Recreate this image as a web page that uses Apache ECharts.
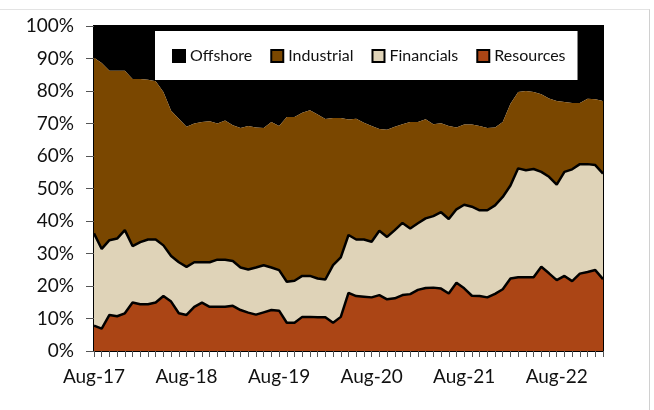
<!DOCTYPE html>
<html>
<head>
<meta charset="utf-8">
<script src="https://cdn.jsdelivr.net/npm/echarts@6/dist/echarts.min.js"></script>
<style>
  html, body { margin: 0; padding: 0; background: #fff; }
  #frame {
    position: absolute;
    left: -2px;
    top: 9px;
    width: 651px;
    height: 410px;
    border-top: 1px solid #e3e3e3;
    border-right: 1px solid #d0d0d0;
  }
  #chart { position: absolute; left: 0; top: 0; width: 654px; height: 410px; }
</style>
</head>
<body>
<div id="frame"></div>
<div id="chart"></div>
<script>
// monthly, Aug-17 .. Feb-23
const months = [
  'Aug-17','Sep-17','Oct-17','Nov-17','Dec-17','Jan-18','Feb-18','Mar-18','Apr-18','May-18','Jun-18','Jul-18',
  'Aug-18','Sep-18','Oct-18','Nov-18','Dec-18','Jan-19','Feb-19','Mar-19','Apr-19','May-19','Jun-19','Jul-19',
  'Aug-19','Sep-19','Oct-19','Nov-19','Dec-19','Jan-20','Feb-20','Mar-20','Apr-20','May-20','Jun-20','Jul-20',
  'Aug-20','Sep-20','Oct-20','Nov-20','Dec-20','Jan-21','Feb-21','Mar-21','Apr-21','May-21','Jun-21','Jul-21',
  'Aug-21','Sep-21','Oct-21','Nov-21','Dec-21','Jan-22','Feb-22','Mar-22','Apr-22','May-22','Jun-22','Jul-22',
  'Aug-22','Sep-22','Oct-22','Nov-22','Dec-22','Jan-23','Feb-23'
];

const resources = [
  7.8, 6.9, 11.1, 10.7, 11.6, 14.9, 14.4, 14.4, 14.9, 16.9, 15.2, 11.6,
  11.1, 13.6, 14.9, 13.6, 13.6, 13.6, 13.9, 12.6, 11.8, 11.2, 11.9, 12.6,
  12.4, 8.7, 8.7, 10.5, 10.5, 10.4, 10.4, 8.7, 10.5, 17.9, 16.9, 16.7,
  16.5, 17.2, 15.9, 16.2, 17.2, 17.5, 18.8, 19.4, 19.5, 19.2, 17.7, 21.0,
  19.3, 17.0, 16.9, 16.5, 17.6, 19.0, 22.3, 22.7, 22.7, 22.7, 25.9, 23.9,
  21.8, 23.1, 21.5, 23.8, 24.3, 24.9, 22.1
];
const financials = [
  28.4, 24.5, 23.0, 23.9, 25.6, 17.4, 19.1, 19.9, 19.4, 15.6, 14.0, 15.7,
  14.8, 13.7, 12.4, 13.7, 14.5, 14.5, 13.8, 13.1, 13.3, 14.5, 14.5, 13.1,
  12.5, 12.6, 12.9, 12.6, 12.6, 11.9, 11.6, 17.7, 18.3, 17.8, 17.4, 17.6,
  17.1, 19.8, 19.2, 21.0, 22.2, 20.2, 20.5, 21.4, 22.0, 23.5, 22.9, 22.6,
  25.7, 27.4, 26.4, 26.8, 27.2, 28.4, 28.6, 33.5, 32.9, 33.3, 29.2, 29.7,
  29.4, 32.0, 34.4, 33.7, 33.2, 32.3, 32.5
];
const industrial = [
  54.0, 57.2, 52.1, 51.6, 49.0, 51.4, 50.2, 49.2, 48.7, 47.2, 44.7, 44.2,
  43.1, 42.7, 43.2, 43.4, 41.9, 42.8, 41.8, 42.9, 44.1, 43.1, 42.2, 44.8,
  44.3, 50.7, 50.4, 50.2, 51.0, 50.5, 49.4, 45.3, 42.9, 35.5, 37.2, 35.9,
  35.6, 31.3, 33.0, 31.8, 30.4, 32.8, 31.2, 30.5, 28.3, 27.4, 28.6, 25.2,
  24.7, 25.3, 25.9, 25.3, 24.0, 23.1, 25.2, 23.5, 24.4, 23.7, 23.9, 24.1,
  25.7, 21.5, 20.4, 18.8, 20.1, 20.3, 22.3
];
const offshore = [
  9.8, 11.4, 13.8, 13.8, 13.8, 16.3, 16.3, 16.5, 17.0, 20.3, 26.1, 28.5,
  31.0, 30.0, 29.5, 29.3, 30.0, 29.1, 30.5, 31.4, 30.8, 31.2, 31.4, 29.5,
  30.8, 28.0, 28.0, 26.7, 25.9, 27.2, 28.6, 28.3, 28.3, 28.8, 28.5, 29.8,
  30.8, 31.7, 31.9, 31.0, 30.2, 29.5, 29.5, 28.7, 30.2, 29.9, 30.8, 31.2,
  30.3, 30.3, 30.8, 31.4, 31.2, 29.5, 23.9, 20.3, 20.0, 20.3, 21.0, 22.3,
  23.1, 23.4, 23.7, 23.7, 22.4, 22.5, 23.1
];
const legendNames = ['Offshore', 'Industrial', 'Financials', 'Resources'];

let chart = echarts.init(document.getElementById('chart'));
const font = 'Lato';

function area(name, data, color, z, edge) {
  return {
    name: name,
    type: 'line',
    stack: 'total',
    data: data,
    z: z,
    symbol: 'none',
    smooth: false,
    itemStyle: { color: color, borderColor: '#000', borderWidth: 2 },
    lineStyle: edge ? { color: '#000', width: 2.5 } : { width: 0 },
    areaStyle: { color: color, opacity: 1 }
  };
}

let option = {
  animation: false,
  backgroundColor: 'transparent',
  grid: {
    left: 94,
    right: 51,
    top: 26,
    bottom: 59,
    show: true,
    borderColor: '#000',
    borderWidth: 2,
    backgroundColor: 'transparent'
  },
  legend: {
    data: legendNames,
    left: 155,
    top: 31,
    padding: [17, 12, 16, 17],
    itemGap: 18,
    itemWidth: 12,
    itemHeight: 12,
    icon: 'rect',
    backgroundColor: '#fff',
    textStyle: { fontFamily: font, fontSize: 16, color: '#111' }
  },
  xAxis: {
    type: 'category',
    data: months,
    boundaryGap: false,
    axisLine: { lineStyle: { color: '#000', width: 2 } },
    axisTick: {
      interval: 0,
      length: 6,
      lineStyle: { color: '#555', width: 1 }
    },
    axisLabel: {
      interval: function (i) { return i % 12 === 0; },
      margin: 16,
      color: '#111',
      fontFamily: font,
      fontSize: 19
    },
    splitLine: { show: false }
  },
  yAxis: {
    type: 'value',
    min: 0,
    max: 100,
    interval: 10,
    axisLine: { show: true, lineStyle: { color: '#000', width: 2 } },
    axisTick: { show: true, length: 8, lineStyle: { color: '#555', width: 1 } },
    axisLabel: {
      formatter: '{value}%',
      margin: 20,
      color: '#111',
      fontFamily: font,
      fontSize: 19
    },
    splitLine: { show: false }
  },
  series: [
    area('Resources', resources, '#AB4515', 4, true),
    area('Financials', financials, '#DFD3B8', 3, true),
    area('Industrial', industrial, '#7A4700', 2, false),
    area('Offshore', offshore, '#000000', 1, false)
  ]
};
chart.setOption(option);
</script>
</body>
</html>
